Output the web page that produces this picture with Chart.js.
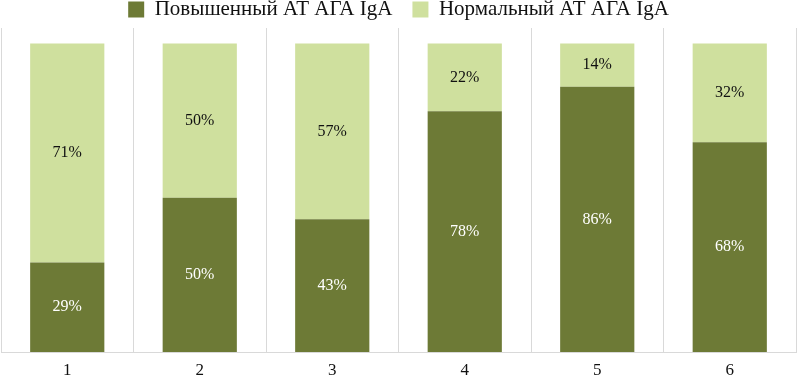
<!DOCTYPE html>
<html>
<head>
<meta charset="utf-8">
<script src="https://cdn.jsdelivr.net/npm/chart.js@4/dist/chart.umd.min.js"></script>
<style>
html,body{margin:0;padding:0;background:#fff;}
#wrap{width:800px;height:382px;}
</style>
</head>
<body>
<div id="wrap"><canvas id="c" width="800" height="382"></canvas></div>
<script>
const categories = ['1','2','3','4','5','6'];
const elevated = [29, 50, 43, 78, 86, 68];
const normal = [71, 50, 57, 22, 14, 32];
const seriesNames = ['Повышенный АТ АГА IgA', 'Нормальный АТ АГА IgA'];

const FONT = '"Liberation Serif", "DejaVu Serif", serif';

const labelPlugin = {
  id: 'barLabels',
  afterDatasetsDraw(chart) {
    const ctx = chart.ctx;
    ctx.save();
    ctx.font = '16px ' + FONT;
    ctx.textAlign = 'center';
    ctx.textBaseline = 'middle';
    chart.data.datasets.forEach((ds, di) => {
      const meta = chart.getDatasetMeta(di);
      meta.data.forEach((bar, i) => {
        const v = ds.data[i];
        const y = (bar.y + bar.base) / 2;
        ctx.fillStyle = di === 0 ? '#ffffff' : '#111111';
        ctx.fillText(v + '%', bar.x, y);
      });
    });
    ctx.restore();
  }
};

const legendLayoutPlugin = {
  id: 'legendLayout',
  afterInit(chart) {
    const lg = chart.legend;
    if (!lg) return;
    const origFit = lg.fit.bind(lg);
    lg.fit = function () { origFit(); this.height = 28; };
  },
  afterLayout(chart) {
    const lg = chart.legend;
    if (!lg) return;
    lg.top = -21;
    lg.bottom = 28;
  }
};

new Chart(document.getElementById('c'), {
  type: 'bar',
  data: {
    labels: categories,
    datasets: [
      { label: seriesNames[0], data: elevated, backgroundColor: '#6d7a36', borderWidth: 0 },
      { label: seriesNames[1], data: normal, backgroundColor: '#cfe09e', borderWidth: 0 }
    ]
  },
  options: {
    responsive: false,
    animation: false,
    layout: { padding: { left: 1, right: 4, top: 0, bottom: 0 } },
    datasets: { bar: { categoryPercentage: 1, barPercentage: 0.56 } },
    plugins: {
      legend: {
        position: 'top',
        labels: {
          boxWidth: 16, boxHeight: 16, padding: 20,
          color: '#111',
          font: { family: FONT, size: 21 }
        }
      },
      tooltip: { enabled: false }
    },
    scales: {
      x: {
        stacked: true,
        grid: { display: true, offset: true, color: '#d9d9d9', lineWidth: 1, drawTicks: false },
        border: { display: true, color: '#d9d9d9' },
        ticks: { color: '#111', font: { family: FONT, size: 17 }, padding: 8 },
        afterFit(scale) { scale.height = 30; }
      },
      y: {
        stacked: true,
        display: false,
        min: 0,
        max: 105
      }
    }
  },
  plugins: [labelPlugin, legendLayoutPlugin]
});
</script>
</body>
</html>
